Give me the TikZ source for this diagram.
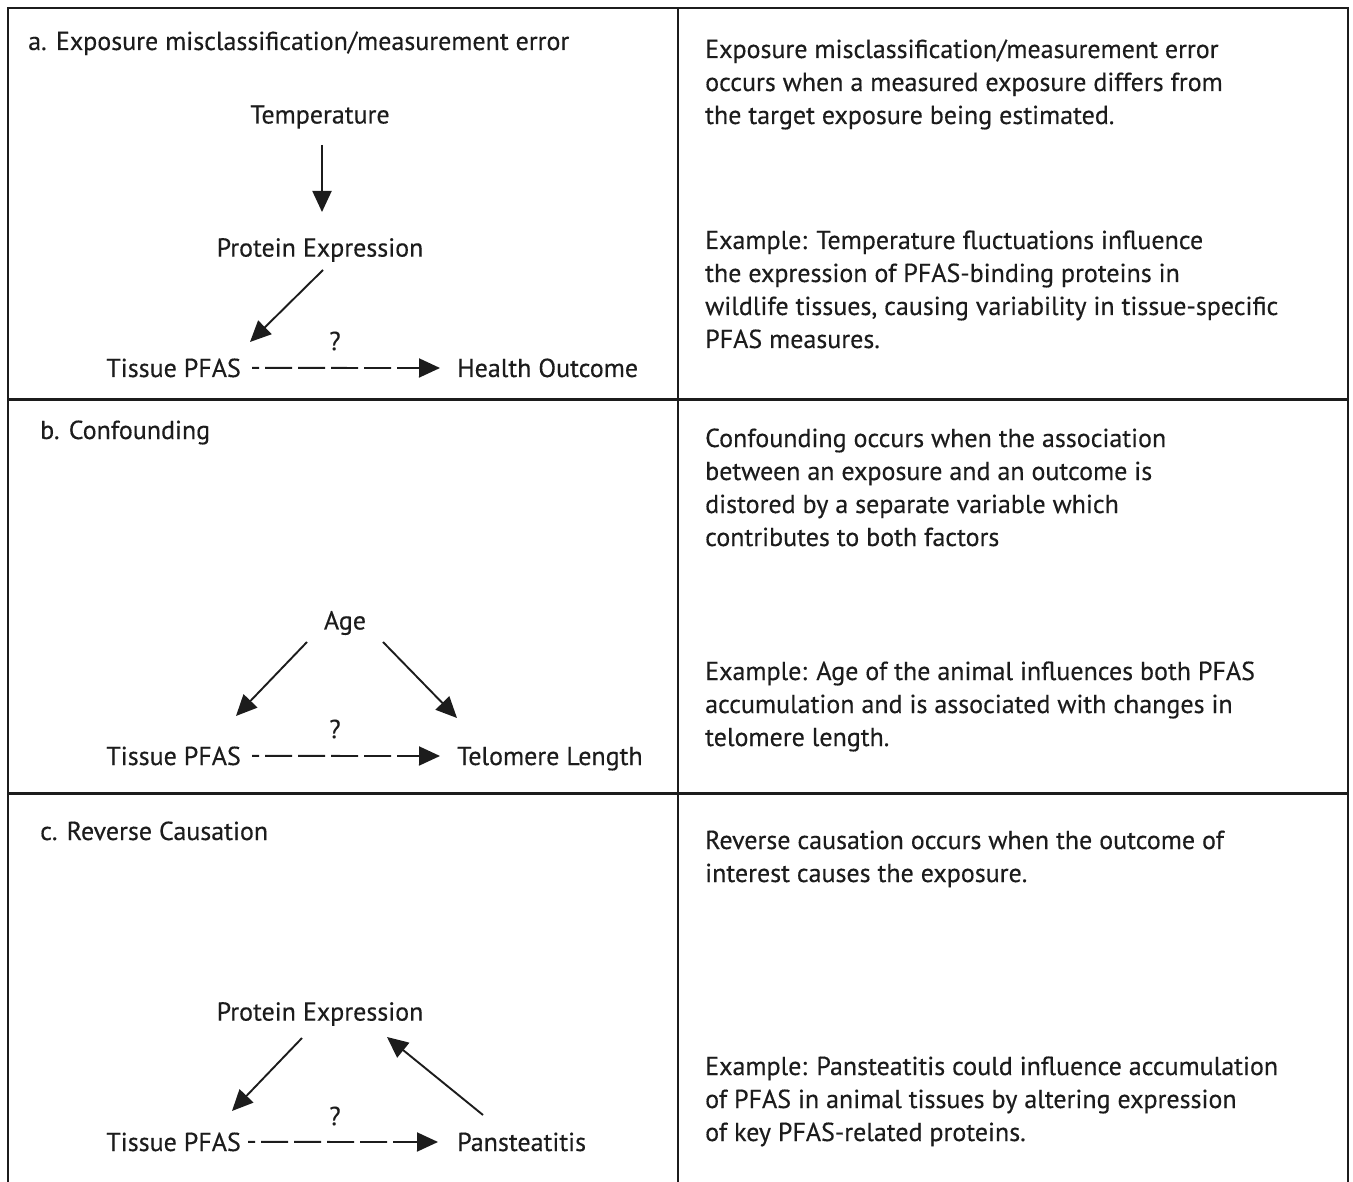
\documentclass[tikz,border=0pt]{standalone}
\usepackage{fontspec}
\setmainfont[FakeBold=0.35]{PT Sans}
\usetikzlibrary{arrows.meta}
\definecolor{ink}{HTML}{1C1C1C}
\tikzset{
  lbl/.style={inner sep=0pt, text=ink, font=\fontsize{26}{33}\selectfont},
  para/.style={lbl, align=left, anchor=base west},
  title/.style={lbl, anchor=base west},
  arr/.style={draw=ink, line width=1.9pt, -{Triangle[length=21pt,width=19pt]}},
  darr/.style={arr, dash pattern=on 27pt off 6pt, dash phase=20pt},
  frame/.style={draw=ink, line width=2.2pt},
  hframe/.style={draw=ink, line width=3pt}
}
\begin{document}
\begin{tikzpicture}[x=1pt,y=-1pt]
\useasboundingbox (0,0) rectangle (1353,1182);
\begin{scope}
\clip (0,0) rectangle (1353,1182);
\draw[frame] (8,8) rectangle (1348,1195);
\draw[frame] (678,8) -- (678,1195);
\draw[hframe] (8,400) -- (1348,400);
\draw[hframe] (8,793) -- (1348,793);
\end{scope}

\coordinate (e1) at (440,368);
\coordinate (e2) at (440,756);
\coordinate (e3) at (438,1142);

% ---- a ----
\node[title] (ta) at (28,50) {a. Exposure misclassification/measurement error};
\node[lbl] (temp) at (320,117) {Temperature};
\node[lbl] (pe1) at (320,250) {Protein Expression};
\node[lbl, anchor=base east] (tp1) at (241,377) {Tissue PFAS};
\node[lbl, anchor=base west] (ho) at (457,377) {Health Outcome};
\node[lbl] (q1) at (335,341) {?};
\draw[arr] (322,145) -- (322,212);
\draw[arr] (323,270) -- (250,342);
\draw[darr] ([xshift=11pt]tp1.east) -- (e1);
\node[para] (ra1) at (705,124) {Exposure misclassification/measurement error\\occurs when a measured exposure differs from\\the target exposure being estimated.};
\node[para] (ra2) at (705,348) {Example: Temperature fluctuations influence\\the expression of PFAS-binding proteins in\\wildlife tissues, causing variability in tissue-specific\\PFAS measures.};

% ---- b ----
\node[title] (tb) at (40,439) {b. Confounding};
\node[lbl] (age) at (345,623) {Age};
\node[lbl, anchor=base east] (tp2) at (241,765) {Tissue PFAS};
\node[lbl, anchor=base west] (tl) at (457,765) {Telomere Length};
\node[lbl] (q2) at (335,729) {?};
\draw[arr] (307,642) -- (236,716);
\draw[arr] (383,642) -- (457,718);
\draw[darr] ([xshift=11pt]tp2.east) -- (e2);
\node[para] (rb1) at (705,546) {Confounding occurs when the association\\between an exposure and an outcome is\\distored by a separate variable which\\contributes to both factors};
\node[para] (rb2) at (705,746) {Example: Age of the animal influences both PFAS\\accumulation and is associated with changes in\\telomere length.};

% ---- c ----
\node[title] (tc) at (40,840) {c. Reverse Causation};
\node[lbl] (pe2) at (320,1014) {Protein Expression};
\node[lbl, anchor=base east] (tp3) at (241,1151) {Tissue PFAS};
\node[lbl, anchor=base west] (pa) at (457,1151) {Pansteatitis};
\node[lbl] (q3) at (335,1116) {?};
\draw[arr] (302,1038) -- (232,1111);
\draw[arr] (483,1115) -- (387,1037);
\draw[darr] ([xshift=7pt]tp3.east) -- (e3);
\node[para] (rc1) at (705,882) {Reverse causation occurs when the outcome of\\interest causes the exposure.};
\node[para] (rc2) at (705,1141) {Example: Pansteatitis could influence accumulation\\of PFAS in animal tissues by altering expression\\of key PFAS-related proteins.};
\end{tikzpicture}
\end{document}
